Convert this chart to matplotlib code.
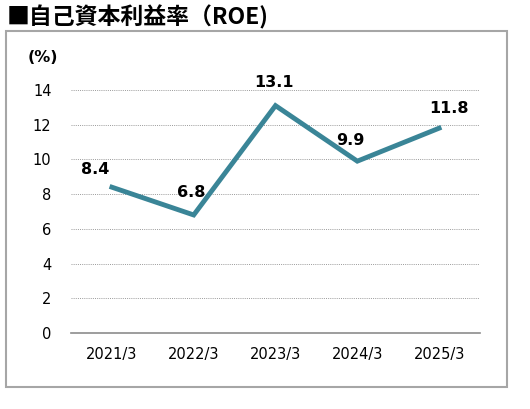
import matplotlib
matplotlib.use('Agg')
import matplotlib.pyplot as plt
from matplotlib.patches import Rectangle

plt.rcParams['font.family'] = ['DejaVu Sans', 'Noto Sans CJK JP']

years = ['2021/3', '2022/3', '2023/3', '2024/3', '2025/3']
roe = [8.4, 6.8, 13.1, 9.9, 11.8]
yticks = [0, 2, 4, 6, 8, 10, 12, 14]

fig = plt.figure(figsize=(5.3, 4.09), dpi=100)
fig.patch.set_facecolor('white')

# outer frame
fig.patches.append(Rectangle((6/530, 1-387/409), 501/530, 356/409,
                             transform=fig.transFigure, fill=False,
                             edgecolor='#a6a6a6', linewidth=1.5))
fig.text(7/530, 1-17/409, '■自己資本利益率（ROE)', fontsize=16.5,
         fontweight='bold', va='center', ha='left',
         family=['Noto Sans CJK JP', 'DejaVu Sans'])

ax = fig.add_axes([71/530, 1-333/409, 409/530, 243/409])
x = range(len(years))
ax.plot(x, roe, color='#3a8597', linewidth=3.5, solid_joinstyle='miter')

offsets = [(-12, 13), (-2, 16), (-1, 17), (-5, 15), (7, 14.5)]
for i, v in enumerate(roe):
    ax.annotate(f'{v:.1f}', (i, v), xytext=offsets[i], textcoords='offset points',
                ha='center', va='center', fontsize=11.5, fontweight='bold')

ax.set_xlim(-0.5, len(years) - 0.5)
ax.set_ylim(0, 14)
ax.set_yticks(yticks)
ax.set_yticklabels([str(t) for t in yticks], fontsize=10.5)
ax.set_xticks(list(x))
ax.set_xticklabels(years, fontsize=10.5)
for t in yticks[1:]:
    ax.axhline(t, color='#9a9a9a', linestyle=(0, (1, 1.2)), linewidth=0.7, zorder=0)
for s in ['top', 'right', 'left']:
    ax.spines[s].set_visible(False)
ax.spines['bottom'].set_color('#8c8c8c')
ax.spines['bottom'].set_linewidth(1.2)
ax.tick_params(length=0)
ax.tick_params(axis='y', pad=14)
ax.tick_params(axis='x', pad=10)
fig.text(43/530, 1-57/409, '(%)', fontsize=11.5, fontweight='bold',
         ha='center', va='center')

fig.savefig('out.png', dpi=100)
